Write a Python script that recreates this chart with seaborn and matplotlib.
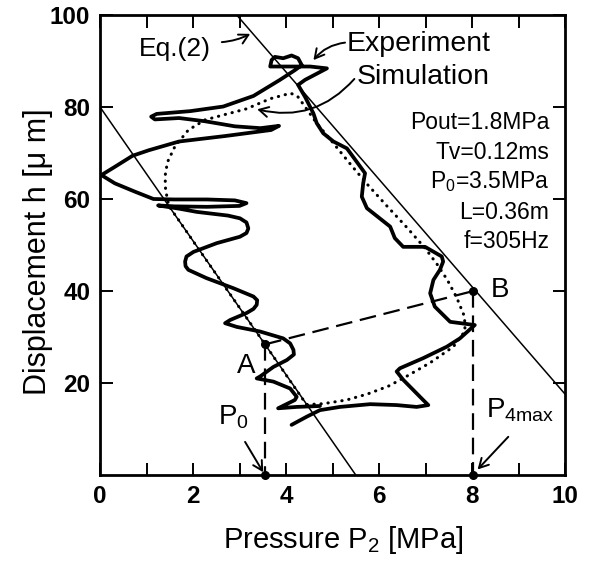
import matplotlib
matplotlib.use("Agg")
import matplotlib.pyplot as plt
import seaborn as sns
import pandas as pd

# ---------------- data ----------------
exp_p = [4.12, 4.45, 4.73, 5.16, 5.81, 6.38, 6.81, 7.06, 6.95, 6.52, 6.38, 6.45, 6.95, 7.46, 7.74, 8.06,
         7.53, 7.20, 7.10, 7.17, 7.31, 7.38, 7.35, 6.99, 6.52, 6.34, 6.24, 5.74, 5.63, 5.66, 5.70, 5.52,
         5.31, 5.02, 4.80, 4.66, 4.59, 4.48, 4.41, 4.26, 4.41, 4.73, 4.88, 4.52, 4.09, 3.66, 3.69, 3.76,
         3.94, 4.12, 4.26, 4.34, 4.19, 3.87, 3.30, 2.65, 1.94, 1.22, 1.10, 1.18, 1.70, 2.26, 2.90, 3.45,
         3.85, 3.68, 2.70, 1.70, 1.05, 0.70, 0.32, 0.03, 0.32, 0.75, 1.15, 1.60, 2.30, 2.90, 3.15, 3.00,
         2.30, 1.60, 1.25, 1.70, 2.08, 2.75, 3.01, 3.15, 3.19, 3.15, 3.01, 2.51, 2.01, 1.86, 1.83, 1.84,
         1.90, 2.29, 2.87, 3.30, 3.38, 3.37, 3.30, 3.15, 2.80, 2.69, 2.94, 3.44, 3.94, 4.09, 4.16, 4.17,
         4.02, 3.73, 3.44, 3.37, 3.73, 4.09, 4.23, 4.19, 3.83, 4.23, 4.73]
exp_h = [10.9, 12.7, 14.1, 14.8, 15.4, 15.2, 14.8, 15.2, 16.3, 20.7, 22.5, 23.2, 25.4, 27.9, 29.7, 32.6,
         33.3, 36.6, 39.5, 42.4, 44.6, 46.4, 47.5, 49.6, 49.6, 51.5, 54.0, 58.0, 60.5, 63.4, 65.6, 68.1,
         71.0, 72.5, 74.3, 76.5, 78.6, 80.8, 82.2, 84.8, 85.9, 87.6, 88.4, 88.8, 88.8, 88.8, 90.2, 90.9,
         90.6, 91.2, 90.6, 89.1, 88.0, 85.9, 82.4, 80.1, 79.1, 78.5, 77.9, 77.3, 77.6, 76.9, 75.8, 75.4,
         75.9, 75.0, 73.7, 72.5, 70.6, 69.4, 67.0, 65.2, 63.4, 61.6, 60.0, 59.9, 59.9, 59.7, 59.1, 58.5,
         58.3, 58.4, 58.6, 57.9, 57.2, 56.4, 55.8, 54.9, 53.6, 52.6, 51.8, 50.4, 48.5, 47.5, 46.4, 45.4,
         44.6, 42.8, 40.6, 38.8, 38.0, 37.0, 36.1, 35.2, 33.7, 33.0, 32.2, 31.2, 29.7, 28.6, 27.2, 26.2,
         25.0, 23.5, 21.4, 21.0, 20.3, 18.8, 17.0, 16.3, 14.5, 14.8, 15.0]

sim_p = [4.45, 4.80, 5.30, 5.75, 6.20, 6.55, 7.10, 7.60, 7.85, 7.84, 7.67, 7.47, 7.25, 7.00, 6.60,
         6.15, 5.73, 5.35, 4.98, 4.65, 4.40, 4.25, 4.10, 3.66, 3.15, 2.70, 2.26, 1.90, 1.61, 1.45, 1.40,
         1.41, 1.48, 1.72, 2.06, 2.75, 3.44, 4.12, 4.38, 4.45]
sim_h = [15.3, 15.5, 16.3, 17.6, 19.3, 21.2, 24.4, 27.9, 31.3, 34.4, 38.6, 42.4, 45.8, 49.2, 53.8,
         58.7, 63.4, 68.0, 72.6, 76.6, 80.2, 82.3, 83.0, 81.8, 79.6, 78.4, 77.2, 75.0, 71.4, 68.0, 65.0,
         62.0, 58.5, 55.0, 50.0, 40.0, 30.0, 20.0, 16.2, 15.3]

eq1_p = [0.0, 5.5]
eq1_h = [80.0, 0.0]
eq2_p = [2.94, 10.0]
eq2_h = [100.0, 17.6]

point_A = [3.55, 28.4]
point_B = [8.03, 40.0]

param_texts = ["Pout=1.8MPa", "Tv=0.12ms", r"$\mathregular{P_0}$=3.5MPa", "L=0.36m", "f=305Hz"]
param_h = [76.7, 70.2, 63.7, 57.0, 50.7]

x_ticks = [0, 2, 4, 6, 8, 10]
y_ticks = [20, 40, 60, 80, 100]

# ---------------- style ----------------
sns.set_theme(style="ticks")
plt.rcParams['font.family'] = ['Liberation Sans', 'DejaVu Sans']
plt.rcParams['mathtext.fontset'] = 'custom'
plt.rcParams['mathtext.rm'] = 'Liberation Sans'
plt.rcParams['mathtext.it'] = 'Liberation Sans:italic'
plt.rcParams['mathtext.default'] = 'regular'
plt.rcParams['text.color'] = 'black'
plt.rcParams['axes.labelcolor'] = 'black'
plt.rcParams['xtick.color'] = 'black'
plt.rcParams['ytick.color'] = 'black'
plt.rcParams['axes.edgecolor'] = 'black'

fig = plt.figure(figsize=(5.92, 5.61), dpi=100)
fig.patch.set_facecolor('white')
ax = fig.add_axes([100 / 592, 1 - 475 / 561, 465 / 592, 460 / 561])
ax.set_facecolor('white')

exp_df = pd.DataFrame({"p": exp_p, "h": exp_h})
sim_df = pd.DataFrame({"p": sim_p, "h": sim_h})

# Eq.(2) lines
sns.lineplot(x=eq1_p, y=eq1_h, sort=False, estimator=None, color='black', linewidth=1.1, ax=ax)
sns.lineplot(x=eq2_p, y=eq2_h, sort=False, estimator=None, color='black', linewidth=1.1, ax=ax)

# simulation (dotted)
sns.lineplot(data=sim_df, x="p", y="h", sort=False, estimator=None, color='black', linewidth=2.2,
             linestyle=(0, (0.1, 2.2)), dash_capstyle='round', ax=ax)

# experiment (thick)
sns.lineplot(data=exp_df, x="p", y="h", sort=False, estimator=None, color='black', linewidth=2.7,
             solid_joinstyle='round', solid_capstyle='round', ax=ax)

# dashed construction lines
dash = (0, (7.5, 3.5))
sns.lineplot(x=[point_A[0], point_B[0]], y=[point_A[1], point_B[1]], sort=False, estimator=None,
             color='black', linewidth=1.6, linestyle=dash, ax=ax)
sns.lineplot(x=[point_A[0], point_A[0]], y=[point_A[1], 0], sort=False, estimator=None,
             color='black', linewidth=1.6, linestyle=dash, ax=ax)
sns.lineplot(x=[point_B[0], point_B[0]], y=[point_B[1], 0], sort=False, estimator=None,
             color='black', linewidth=1.6, linestyle=dash, ax=ax)

# dots
ax.plot([point_A[0], point_B[0], point_A[0], point_B[0]], [point_A[1], point_B[1], 0, 0], 'o',
        color='black', markersize=5.5, clip_on=False, zorder=5)

# text labels
ax.text(3.15, 23.7, "A", fontsize=20, ha='center', va='center')
ax.text(8.6, 40.2, "B", fontsize=20, ha='center', va='center')
ax.text(2.86, 12.5, r"$\mathregular{P_0}$", fontsize=20, ha='center', va='center')
ax.text(9.03, 14.0, r"$\mathregular{P_{4max}}$", fontsize=20, ha='center', va='center')

arrow = dict(arrowstyle='->,head_length=0.55,head_width=0.3', color='black', lw=1.4,
             shrinkA=0, shrinkB=0)
ax.annotate("", xy=(3.51, 0.6), xytext=(3.12, 7.2), arrowprops=arrow)
ax.annotate("", xy=(8.12, 1.2), xytext=(8.78, 8.3), arrowprops=arrow)

ax.text(1.6, 92.6, "Eq.(2)", fontsize=19, ha='center', va='center')
ax.annotate("", xy=(3.23, 95.9), xytext=(2.62, 94.1), arrowprops=dict(arrow, connectionstyle="arc3,rad=0.1"))

ax.text(5.31, 93.7, "Experiment", fontsize=20.5, ha='left', va='center')
ax.annotate("", xy=(4.59, 90.2), xytext=(5.27, 94.0),
            arrowprops=dict(arrow, connectionstyle="arc3,rad=0.2"))
ax.text(5.53, 86.6, "Simulation", fontsize=20.5, ha='left', va='center')
ax.annotate("", xy=(3.38, 79.5), xytext=(5.47, 86.1),
            arrowprops=dict(arrow, connectionstyle="arc3,rad=-0.3"))

for t, hv in zip(param_texts, param_h):
    ax.text(9.66, hv, t, fontsize=16.5, ha='right', va='center')

# axes
ax.set_xlim(0, 10)
ax.set_ylim(0, 100)
ax.set_xticks(x_ticks)
ax.set_xticks([1, 3, 5, 7, 9], minor=True)
ax.set_yticks(y_ticks)
ax.set_xticklabels([str(v) for v in x_ticks])
ax.set_yticklabels([str(v) for v in y_ticks])
ax.tick_params(axis='both', which='both', direction='in', length=9, width=1.4,
               top=True, right=True, labelsize=17.5, pad=7, color='black', labelcolor='black')
for lbl in ax.get_xticklabels() + ax.get_yticklabels():
    lbl.set_fontweight('bold')
for s in ax.spines.values():
    s.set_linewidth(2.0)
    s.set_color('black')
ax.set_xlabel("")
ax.set_ylabel("")

fig.text(343.5 / 592, 1 - 540 / 561, r"Pressure $\mathregular{P_2}$ [MPa]", fontsize=21,
         ha='center', va='center')
fig.text(38 / 592, 1 - 252 / 561, "Displacement h [μ m]", fontsize=22, rotation=90,
         ha='center', va='center')

fig.savefig("out.png", dpi=100, facecolor='white')
